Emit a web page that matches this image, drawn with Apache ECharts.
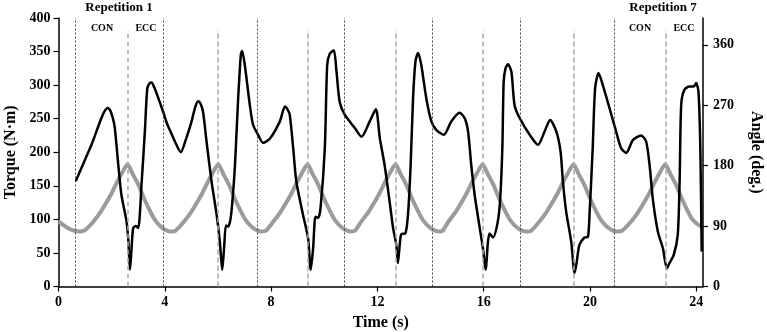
<!DOCTYPE html>
<html>
<head>
<meta charset="utf-8">
<script src="https://cdn.jsdelivr.net/npm/echarts@6/dist/echarts.min.js"></script>
<style>
html,body{margin:0;padding:0;background:#fff;}
#chart{width:767px;height:332px;}
</style>
</head>
<body>
<div id="chart"></div>
<script>
// Torque (N·m) vs time (s)
const torqueT = [0.65,1.25,1.85,1.95,2.05,2.12,2.25,2.37,2.56,2.63,2.69,2.75,2.81,2.91,3.0,3.13,3.25,3.34,3.43,3.5,3.6,3.69,3.94,4.07,4.19,4.38,4.6,4.8,5.0,5.15,5.26,5.35,5.44,5.57,5.76,5.95,6.07,6.16,6.23,6.3,6.38,6.47,6.55,6.64,6.76,6.86,6.91,7.01,7.2,7.32,7.51,7.7,7.95,8.33,8.52,8.6,8.7,8.83,8.95,9.2,9.39,9.49,9.58,9.67,9.77,9.86,10.02,10.11,10.21,10.36,10.46,10.58,10.77,11.15,11.4,11.71,11.94,12.09,12.27,12.46,12.59,12.71,12.77,12.84,12.9,13.05,13.15,13.25,13.34,13.43,13.53,13.65,13.84,14.03,14.22,14.5,14.78,15.09,15.28,15.41,15.53,15.66,15.85,15.97,16.07,16.16,16.22,16.35,16.53,16.62,16.7,16.75,16.82,16.91,17.04,17.16,17.35,17.73,18.04,18.29,18.5,18.73,18.89,18.98,19.1,19.29,19.42,19.5,19.6,19.79,19.92,19.98,20.1,20.19,20.32,20.48,20.73,20.98,21.17,21.36,21.61,21.92,22.11,22.24,22.36,22.55,22.74,22.89,22.99,23.15,23.3,23.37,23.43,23.55,23.74,23.9,23.99,24.08,24.15,24.2];
const torqueV = [157,212,266,262,250,236,181,136,97,67,25,57,87,90,87,156,231,295,303,304,297,288,260,244,233,216,200,220,245,268,276,272,260,216,156,107,67,25,57,91,89,100,130,181,280,345,351,330,270,241,226,214,220,246,268,265,256,206,156,107,72,25,57,104,102,117,206,330,347,352,320,275,256,236,223,246,264,221,181,126,87,62,35,62,78,79,107,181,280,335,348,330,280,246,233,226,246,259,251,231,181,136,87,57,25,67,79,73,97,131,206,305,325,331,320,270,251,226,211,231,248,231,201,156,112,67,20,37,62,73,74,107,206,295,318,300,266,231,206,199,218,225,216,181,131,82,57,27,35,47,77,156,271,293,298,298,303,290,206,52];

// Knee angle (deg.) vs time (s)
const angleT = [0,0.2,0.4,0.6,0.8,1.0,1.3,1.6,1.8,2.0,2.2,2.4,2.6,2.8,3.0,3.2,3.4,3.6,3.8,4.0,4.2,4.4,4.71,5.01,5.21,5.41,5.61,5.81,6.01,6.21,6.41,6.61,6.81,7.01,7.21,7.41,7.61,7.8,8.07,8.37,8.57,8.77,8.97,9.17,9.37,9.57,9.77,9.97,10.17,10.37,10.57,10.77,10.97,11.15,11.38,11.68,11.88,12.08,12.28,12.48,12.68,12.88,13.08,13.28,13.48,13.68,13.88,14.08,14.28,14.45,14.66,14.96,15.16,15.36,15.56,15.76,15.96,16.16,16.36,16.56,16.76,16.96,17.16,17.36,17.56,17.78,18.08,18.38,18.58,18.78,18.98,19.18,19.38,19.58,19.78,19.98,20.18,20.38,20.58,20.78,20.98,21.2,21.53,21.83,22.03,22.23,22.43,22.63,22.83,23.03,23.23,23.43,23.63,23.83,24.03,24.2];
const angleV = [97,91,86,83,82,84,96,112,125,139,155,170,182,167,152,133,116,101,91,85,82,83,96,112,125,139,155,170,182,167,152,133,116,101,91,85,82,83,96,112,125,139,155,170,182,167,152,133,116,101,91,85,82,83,96,112,125,139,155,170,182,167,152,133,116,101,91,85,82,83,96,112,125,139,155,170,182,167,152,133,116,101,91,85,82,83,96,112,125,139,155,170,182,167,152,133,116,101,91,85,82,83,96,112,125,139,155,170,182,167,152,133,116,101,93,89];

// Repetition boundaries (black dotted) and CON/ECC switches (grey dashed), in s
const repBounds = [0.62,3.93,7.46,10.77,14.08,17.39,20.92];
const phaseSwitch = [2.6,6.01,9.37,12.68,15.96,19.38,22.83];

// Axis ticks
const xTicks = [0,4,8,12,16,20,24];
const torqueTicks = [0,50,100,150,200,250,300,350,400];
const angleTicks = [0,90,180,270,360];

const FONT = '"Liberation Serif","Times New Roman",serif';
const chart = echarts.init(document.getElementById('chart'), null, {renderer:'canvas'});

const zip = (a,b) => a.map((t,i)=>[t,b[i]]);

const axisLbl = {fontFamily: FONT, fontWeight:'bold', fontSize:14, color:'#000'};

chart.setOption({
  animation:false,
  backgroundColor:'#fff',
  grid:{left:58.5, right:64, top:18, bottom:45.5, containLabel:false, outerBoundsMode:'none'},
  xAxis:{
    type:'value', min:0, max:24.25, interval:4,
    axisLine:{show:true, onZero:false, lineStyle:{color:'#000', width:1.5}},
    axisTick:{show:true, length:5, lineStyle:{color:'#000', width:1.2}, customValues: xTicks},
    axisLabel:Object.assign({margin:9, customValues: xTicks}, axisLbl),
    splitLine:{show:false},
    name:'Time (s)', nameLocation:'middle', nameGap:25,
    nameTextStyle:{fontFamily:FONT, fontWeight:'bold', fontSize:16, color:'#000'}
  },
  yAxis:[{
    type:'value', min:0, max:400, interval:50, position:'left',
    axisLine:{show:true, lineStyle:{color:'#000', width:1.5}},
    axisTick:{show:true, length:5, lineStyle:{color:'#000', width:1.2}, customValues: torqueTicks},
    axisLabel:Object.assign({margin:8, customValues: torqueTicks}, axisLbl),
    splitLine:{show:false},
    name:'Torque (N·m)', nameLocation:'middle', nameGap:34, nameRotate:90,
    nameTextStyle:{fontFamily:FONT, fontWeight:'bold', fontSize:16, color:'#000'}
  },{
    type:'value', min:0, max:400, interval:90, position:'right',
    axisLine:{show:true, lineStyle:{color:'#000', width:1.5}},
    axisTick:{show:true, length:5, lineStyle:{color:'#000', width:1.2}, customValues: angleTicks},
    axisLabel:Object.assign({margin:10, customValues: angleTicks}, axisLbl),
    splitLine:{show:false},
    name:'Angle (deg.)', nameLocation:'middle', nameGap:45, nameRotate:-90,
    nameTextStyle:{fontFamily:FONT, fontWeight:'bold', fontSize:16, color:'#000'}
  }],
  series:[{
    type:'line', data:[], z:1, silent:true,
    markLine:{
      silent:true, symbol:['none','none'], label:{show:false}, animation:false,
      data: repBounds.map(t=>[{coord:[t,0], lineStyle:{color:'#444', type:[2,2], width:1}},{coord:[t,400]}])
        .concat(phaseSwitch.map(t=>[{coord:[t,0], lineStyle:{color:'#aaa', type:[5,3], width:1.5}},{coord:[t,382]}]))
    }
  },{
    name:'Angle', type:'line', yAxisIndex:1, data:zip(angleT, angleV), z:2,
    showSymbol:false, smooth:0.2,
    lineStyle:{color:'#9b9b9b', width:4}
  },{
    name:'Torque', type:'line', yAxisIndex:0, data:zip(torqueT, torqueV), z:3,
    showSymbol:false, smooth:0.25,
    lineStyle:{color:'#000', width:2.5}
  }],
  graphic:[
    {type:'text', style:{text:'Repetition 1', x:119, y:8, textAlign:'center', textVerticalAlign:'middle', font:'bold 13px '+FONT, fill:'#000'}},
    {type:'text', style:{text:'CON', x:102, y:28, textAlign:'center', textVerticalAlign:'middle', font:'bold 10px '+FONT, fill:'#000'}},
    {type:'text', style:{text:'ECC', x:146, y:28, textAlign:'center', textVerticalAlign:'middle', font:'bold 10px '+FONT, fill:'#000'}},
    {type:'text', style:{text:'Repetition 7', x:663, y:8, textAlign:'center', textVerticalAlign:'middle', font:'bold 13px '+FONT, fill:'#000'}},
    {type:'text', style:{text:'CON', x:640, y:28, textAlign:'center', textVerticalAlign:'middle', font:'bold 10px '+FONT, fill:'#000'}},
    {type:'text', style:{text:'ECC', x:684, y:28, textAlign:'center', textVerticalAlign:'middle', font:'bold 10px '+FONT, fill:'#000'}}
  ]
});
</script>
</body>
</html>
